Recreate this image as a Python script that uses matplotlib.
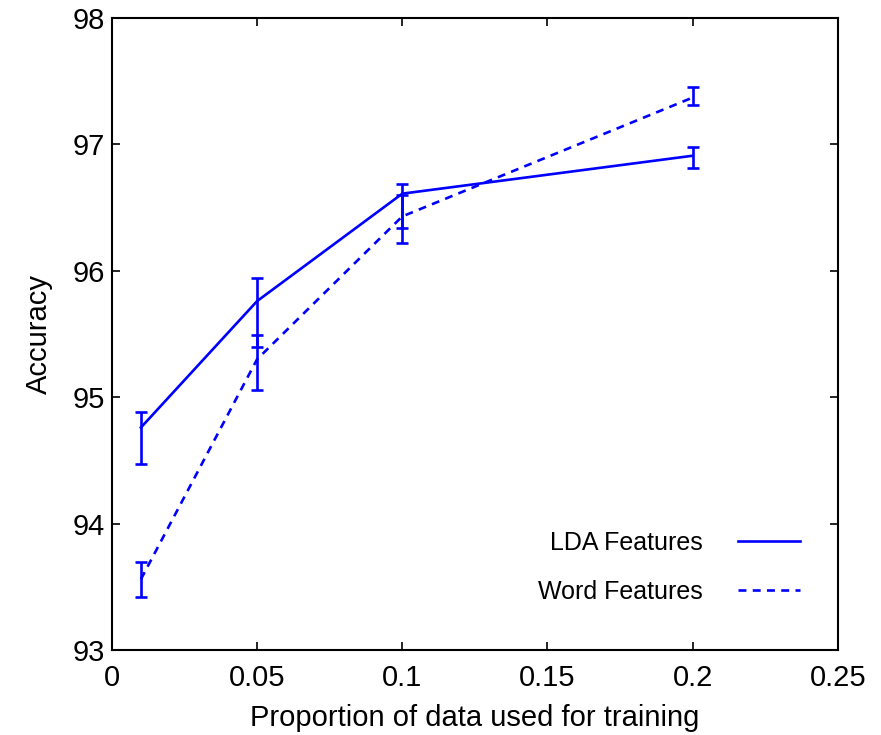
import matplotlib
matplotlib.use("Agg")
import matplotlib.pyplot as plt
from matplotlib.lines import Line2D

plt.rcParams['font.family'] = ['Liberation Sans', 'DejaVu Sans']

x = [0.01, 0.05, 0.1, 0.2]
lda_mean = [94.76, 95.76, 96.61, 96.91]
lda_low = [94.47, 95.40, 96.34, 96.81]
lda_high = [94.88, 95.94, 96.69, 96.98]
word_mean = [93.56, 95.30, 96.43, 97.37]
word_low = [93.42, 95.06, 96.22, 97.31]
word_high = [93.70, 95.49, 96.60, 97.45]

xticks = [0, 0.05, 0.1, 0.15, 0.2, 0.25]
xticklabels = ["0", "0.05", "0.1", "0.15", "0.2", "0.25"]
yticks = [93, 94, 95, 96, 97, 98]
labels = ["LDA Features", "Word Features"]

blue = (0, 0, 1)
dash = (0, (3, 2.4))
fig = plt.figure(figsize=(8.81, 7.35), dpi=100)
ax = fig.add_axes([0.127, 0.1156, 0.824, 0.86])

def yerr(m, lo, hi):
    return [[a - b for a, b in zip(m, lo)], [c - a for a, c in zip(m, hi)]]

ax.errorbar(x, lda_mean, yerr=yerr(lda_mean, lda_low, lda_high), color=blue,
            lw=1.9, capsize=4.5, capthick=1.9, elinewidth=1.9, ls='-')
ax.errorbar(x, word_mean, yerr=yerr(word_mean, word_low, word_high), color=blue,
            lw=1.9, capsize=4.5, capthick=1.9, elinewidth=1.9, ls=dash)

ax.set_xlim(0, 0.25)
ax.set_ylim(93, 98)
ax.set_xticks(xticks)
ax.set_xticklabels(xticklabels)
ax.set_yticks(yticks)
ax.tick_params(direction='in', length=6, width=1.2, labelsize=21, top=True, right=True)
ax.tick_params(axis='x', pad=10)
ax.tick_params(axis='y', pad=5)
for s in ax.spines.values():
    s.set_linewidth(1.5)
ax.set_xlabel("Proportion of data used for training", fontsize=21, labelpad=9)
ax.set_ylabel("Accuracy", fontsize=21, labelpad=14)

h = [Line2D([], [], color=blue, lw=1.9), Line2D([], [], color=blue, lw=1.9, ls=dash)]
leg = ax.legend(h, labels, loc='lower right', frameon=False, markerfirst=False,
                fontsize=18, handlelength=2.5, handletextpad=1.4, labelspacing=1.0,
                borderaxespad=0, borderpad=0, bbox_to_anchor=(0.948, 0.073))

fig.savefig("out.png", dpi=100)
